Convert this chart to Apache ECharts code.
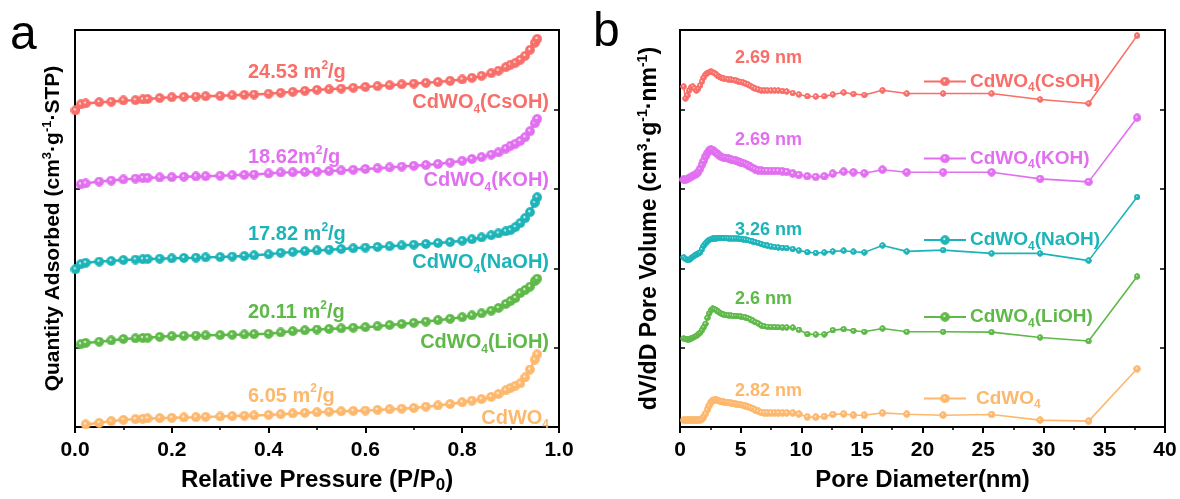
<!DOCTYPE html>
<html><head><meta charset="utf-8">
<script src="https://cdn.jsdelivr.net/npm/echarts@6/dist/echarts.min.js"></script>
<style>html,body{margin:0;padding:0;background:#fff}#c{width:1180px;height:499px}</style>
</head><body><div id="c"></div>
<script>
const FONT = 'Arial, "Liberation Sans", Helvetica, sans-serif';

// ---------- Panel a: N2 isotherms (offset, arbitrary units) ----------
const pressure = [0.001,0.012,0.022,0.05,0.075,0.1,0.125,0.14,0.15,0.175,0.2,0.225,0.25,0.27,0.3,0.325,0.35,0.37,0.4,0.425,0.45,0.475,0.5,0.525,0.55,0.575,0.6,0.625,0.65,0.675,0.7,0.725,0.75,0.775,0.8,0.82,0.84,0.86,0.875,0.89,0.9,0.91,0.92,0.93,0.94,0.95,0.955];
const isoCsOH = [319,325,326,327.3,327.7,329,329.3,330,330.5,331.5,332.3,332.7,333,333.3,333.7,334.2,334.7,335,335.8,336.7,337.7,338.7,339.7,340.3,341,341.8,342.7,343.5,344.4,345.3,346,346.8,347.6,348.8,350.2,351.8,353.8,356.5,359,362.5,365,367,370,374,380,387,391];
const isoKOH = [null,244.5,245.5,247.3,248.3,249.5,250.3,250.8,251.1,251.5,251.8,252.2,252.5,252.7,253.2,253.7,254.1,254.4,255.5,256.5,256.7,257,257.3,257.9,258.5,259.2,260,260.8,261.6,262.4,263.2,264,265,266.5,268.2,270,272,274.5,276.7,280.5,283.5,285.5,288.3,292,298,306,310.5];
const isoNaOH = [159,164,165.5,166.7,167.3,168.3,168.8,169.1,169.3,169.7,170,170.4,170.7,171,171.3,171.8,172.4,173,174,175.5,176.5,177.3,178,178.7,179.4,180.1,180.8,181.5,182.2,183,183.7,184.5,185.4,186.4,187.7,189.2,191,193.3,195.2,197.2,198.5,201.5,205.5,210.5,216.5,226,231.5];
const isoLiOH = [null,83.5,84.8,86,87.3,88.8,89.4,89.8,90,90.9,91.7,92,92.2,92.4,92.7,93,93.3,93.6,94,95.3,96.7,97.5,98.3,98.9,99.5,100.1,100.7,101.7,102.8,103.9,105,106.3,107.7,109.1,110.7,112.5,114.6,117.2,120,124,127,130,135,138,141.5,147,149.5];
const isoBare = [null,null,2.7,4.3,6,7.3,8,8.4,8.7,9,9.3,9.7,10,10.3,10.7,11.1,11.5,11.8,12.3,13,13.7,14.4,15,15.4,15.9,16.3,16.7,17.3,18,18.6,19.3,20.5,21.8,23.3,25,26.6,28.2,30.5,33.3,37,39.5,41.7,44,50,58,68,73.3];
const xTickLabelsA = ['0.0','0.2','0.4','0.6','0.8','1.0'];
const surfaceLabels = ['24.53 m{sup|2}/g','18.62m{sup|2}/g','17.82 m{sup|2}/g','20.11 m{sup|2}/g','6.05 m{sup|2}/g'];

// ---------- Panel b: pore size distribution (offset, arbitrary units) ----------
const poreD = [0.3,0.45,0.6,0.75,0.9,1.05,1.2,1.35,1.5,1.65,1.8,1.95,2.1,2.25,2.4,2.55,2.7,2.85,3.0,3.15,3.3,3.45,3.6,3.8,4.0,4.2,4.4,4.6,4.8,5.0,5.2,5.4,5.6,5.8,6.0,6.2,6.45,6.7,6.95,7.2,7.5,7.8,8.1,8.45,8.8,9.3,9.8,10.5,11.2,11.9,12.6,13.5,14.3,15.2,16.7,18.7,21.7,25.7,29.7,33.7,37.7];
const psdCsOH = [343,331,334,339,342,343,341,339,341,344,348,352,355,356.5,357.5,358,357.5,356.5,355,353.5,352.5,351.5,351,350.7,350.3,350,349.5,349,348.3,347.7,347,346,345,343.7,342.3,341,340,339.3,339,339,339,339,339,338.5,338,336.5,335,333.3,333,333.3,335,337,335.5,334.5,339.3,336,336,336,330,326,394.3];
const psdKOH = [249.3,249,250,251,252,253,254,255,257,260,264,268,272.5,276,278.5,279.5,279,277.5,276,274.5,273,272,271.3,271,270.5,269.7,269,268.3,267.5,266.7,266,265,263.7,262.3,261,259.7,258.7,258.3,258,258,258,258,258,257.7,257,255.5,254,252.7,252,252.7,255.3,257.3,256.7,255.7,259.3,256.7,256.7,256.7,250,247,311.7];
const psdNaOH = [171,169.5,168.5,168.5,170,171.5,172.7,173.7,174.8,176,179,182.5,185,187,188.5,189.3,189.8,190,190.2,190.4,190.5,190.5,190.4,190.3,190.2,190.1,190,190,189.8,189.5,189.2,188.8,188.4,187.7,187,186.3,185.5,184.5,183.5,182.7,182,181.4,181,180.6,180.3,179.4,178,176.2,175.4,176,177,177.7,176.7,176,183,177,178.3,175,175,167.7,231.7];
const psdLiOH = [89.3,88.7,88.3,88.3,89,90,91,92,93.5,95,97.5,100.5,104,110,114.5,117.5,119.3,118.8,117.7,116.3,115,114,113.3,112.8,112.5,112.3,112.1,111.9,111.7,111.5,111,110.5,109.7,108.5,107.2,105.8,104.4,102.4,101.6,101,100.8,100.7,100.6,100.5,100.4,100.2,98,93.7,93.3,93.5,97.7,98.7,97,96,99.3,96,96,95.7,90.3,86.7,151.7];
const psdBare = [7,7,7,7,7,7,7,7,7,7.3,8,10.5,13.5,17.5,21.5,25,27,27.7,27.5,26.8,26,25.6,25.3,25,24.6,24.2,23.8,23.4,23,22.6,22,21.3,20.6,19.6,18.5,17.3,16,14.8,14.4,14.3,14.3,14.3,14.3,14.3,14.3,14.2,13,10.3,10,10.7,12.7,13.3,12,12,14.3,13,12,12.7,7,6,58.7];
const xTickLabelsB = ['0','5','10','15','20','25','30','35','40'];
const peakLabels = ['2.69 nm','2.69 nm','3.26 nm','2.6 nm','2.82 nm'];

const sampleNames = ['CdWO4(CsOH)','CdWO4(KOH)','CdWO4(NaOH)','CdWO4(LiOH)','CdWO4'];
const colors = ['#F86E69','#E16FF0','#1CB4B8','#5EB948','#FDB86D'];

// ---------- build ----------
// shaded ball marker image (solid colour disc with small white highlight)
function ballImage(c){
  const S = 40, cv = document.createElement('canvas');
  cv.width = S; cv.height = S;
  const g = cv.getContext('2d');
  g.beginPath(); g.arc(S/2, S/2, S/2-0.5, 0, Math.PI*2); g.fillStyle = c; g.fill();
  const hx = S*0.43, hy = S*0.4, hr = S*0.15;
  const rg = g.createRadialGradient(hx, hy, 0, hx, hy, hr);
  rg.addColorStop(0, 'rgba(255,255,255,1)');
  rg.addColorStop(0.5, 'rgba(255,255,255,0.85)');
  rg.addColorStop(1, 'rgba(255,255,255,0)');
  g.beginPath(); g.arc(hx, hy, hr, 0, Math.PI*2); g.fillStyle = rg; g.fill();
  return 'image://' + cv.toDataURL();
}
function pairs(xs, ys){ const out=[]; xs.forEach((x,i)=>{ if(ys[i]!=null) out.push([x,ys[i]]); }); return out; }
function subName(n){ return n.replace('4','{sub|4}'); }

const isoData = [isoCsOH, isoKOH, isoNaOH, isoLiOH, isoBare];
const psdData = [psdCsOH, psdKOH, psdNaOH, psdLiOH, psdBare];
const psdSizes = [6.5,8.5,6.5,6.5,7.5];
const balls = colors.map(ballImage);

const series = [];
isoData.forEach((arr,i)=>{
  series.push({type:'line', name:'iso-'+i, xAxisIndex:0, yAxisIndex:0, data:pairs(pressure,arr),
    symbol:balls[i], symbolSize:10, showSymbol:true, itemStyle:{color:colors[i]},
    lineStyle:{color:colors[i], width:2.5}, emphasis:{disabled:true}, silent:true, z:3+i});
});
psdData.forEach((arr,i)=>{
  series.push({type:'line', name:sampleNames[i], xAxisIndex:1, yAxisIndex:2, data:pairs(poreD,arr),
    symbol:balls[i], symbolSize:psdSizes[i], showSymbol:true, itemStyle:{color:colors[i]},
    lineStyle:{color:colors[i], width:1.6}, emphasis:{disabled:true}, silent:true, z:3+i});
});

function richSet(size, color){
  const s = Math.round(size*0.62);
  return {
    sup:{fontSize:s, fontWeight:'bold', fontFamily:FONT, verticalAlign:'top', lineHeight:s, fill:color, color:color},
    sub:{fontSize:s, fontWeight:'bold', fontFamily:FONT, verticalAlign:'bottom', lineHeight:s, fill:color, color:color}
  };
}
function txt(x, y, text, color, size, align){
  return {type:'text', x:x, y:y, silent:true, z:100,
    style:{text:text, fill:color, fontSize:size, fontWeight:'bold', fontFamily:FONT,
      textAlign:align, align:align, verticalAlign:'middle', textVerticalAlign:'middle',
      lineHeight:size+6, rich:richSet(size,color)}};
}

const graphics = [];
const surfY = [72.5,157.5,234.5,312.5,396];
const nameY = [102.5,180.5,262.5,342.5,418];
surfaceLabels.forEach((t,i)=>graphics.push(txt(248, surfY[i], t, colors[i], 20, 'left')));
sampleNames.forEach((n,i)=>graphics.push(txt(549, nameY[i], subName(n), colors[i], 20, 'right')));
const peakY = [58,140,230,299.5,391.5];
peakLabels.forEach((t,i)=>graphics.push(txt(735, peakY[i], t, colors[i], 18, 'left')));
const legY = [81.5,158.5,240,317,398.5];
const legTextX = [970,970,970,970,976];
sampleNames.forEach((n,i)=>graphics.push(txt(legTextX[i], legY[i], subName(n), colors[i], 19, 'left')));
graphics.push({type:'text', x:10, y:36, silent:true, style:{text:'a', fill:'#000', fontSize:48, fontFamily:FONT, verticalAlign:'middle', textVerticalAlign:'middle'}});
graphics.push({type:'text', x:593, y:33, silent:true, style:{text:'b', fill:'#000', fontSize:48, fontFamily:FONT, verticalAlign:'middle', textVerticalAlign:'middle'}});

// legend: icons only (line + marker); labels drawn as rich text above
const legends = sampleNames.map((n,i)=>({
  data:[n], left:923, top:legY[i]-6, padding:0, itemWidth:42, itemHeight:12, selectedMode:false,
  formatter: () => '', textStyle:{fontSize:12}
}));

const tickLbl = {fontSize:21, fontWeight:'bold', color:'#000', fontFamily:FONT, margin:13};
const axLine = {show:true, lineStyle:{color:'#000', width:2}};
function xAxis(grid, min, max, interval, labels, name){
  return {gridIndex:grid, type:'value', min:min, max:max, interval:interval,
    axisLine:axLine, axisTick:{show:true, inside:false, length:6, lineStyle:{color:'#000', width:2}},
    minorTick:{show:true, splitNumber:2, length:3, lineStyle:{color:'#000', width:1.5}},
    axisLabel:Object.assign({formatter: v => labels[Math.round((v-min)/interval)]}, tickLbl),
    splitLine:{show:false}, minorSplitLine:{show:false},
    name:name, nameLocation:'middle', nameGap:36,
    nameTextStyle:{fontSize:24, fontWeight:'bold', color:'#000', fontFamily:FONT, lineHeight:28,
      rich:{sub:{fontSize:17, fontWeight:'bold', color:'#000', fontFamily:FONT, verticalAlign:'bottom', lineHeight:17}}}};
}
function yAxis(grid, pos, name, size, gap){
  const a = {gridIndex:grid, type:'value', min:0, max:400, interval:80, position:pos,
    axisLine:axLine, axisTick:{show:true, inside:true, length:5, lineStyle:{color:'#000', width:1.5}},
    axisLabel:{show:false}, splitLine:{show:false}};
  if (name){
    a.name = name; a.nameLocation='middle'; a.nameGap=gap;
    a.nameTextStyle = {fontSize:size, fontWeight:'bold', color:'#000', fontFamily:FONT, lineHeight:size+4,
      rich:{sup:{fontSize:Math.round(size*0.62), fontWeight:'bold', color:'#000', fontFamily:FONT, verticalAlign:'top', lineHeight:Math.round(size*0.62)}}};
  }
  return a;
}

const chart = echarts.init(document.getElementById('c'), null, {renderer:'canvas'});
chart.setOption({
  backgroundColor:'#fff',
  animation:false,
  grid:[
    {left:75, right:621, top:30, bottom:69, show:true, borderColor:'#000', borderWidth:2, backgroundColor:'transparent'},
    {left:680, right:15, top:30, bottom:68, show:true, borderColor:'#000', borderWidth:2, backgroundColor:'transparent'}
  ],
  xAxis:[
    xAxis(0, 0, 1, 0.2, xTickLabelsA, 'Relative Pressure (P/P{sub|0})'),
    xAxis(1, 0, 40, 5, xTickLabelsB, 'Pore Diameter(nm)')
  ],
  yAxis:[
    yAxis(0,'left','Quantity Adsorbed (cm{sup|3}·g{sup|-1}·STP)',21,9),
    yAxis(0,'right'),
    yAxis(1,'left','dV/dD Pore Volume (cm{sup|3}·g{sup|-1}·nm{sup|-1})',23,17),
    yAxis(1,'right')
  ],
  legend:legends,
  series:series,
  graphic:graphics
});
</script></body></html>
